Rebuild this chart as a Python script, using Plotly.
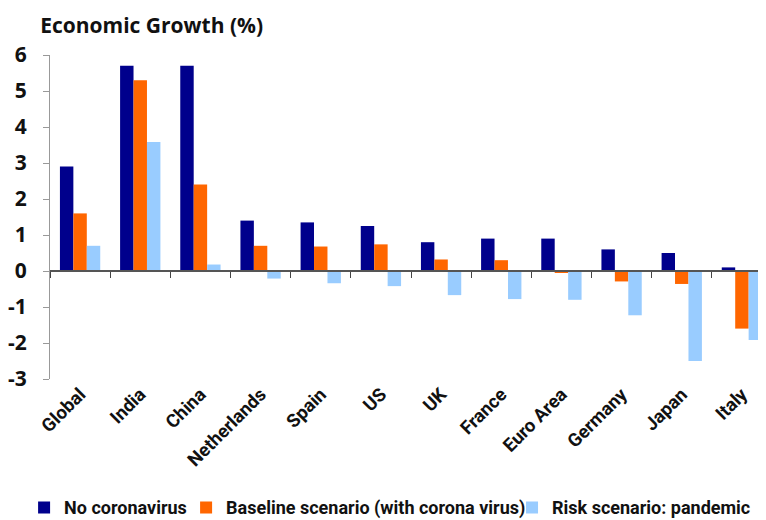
import plotly.graph_objects as go

categories = ["Global", "India", "China", "Netherlands", "Spain", "US", "UK",
              "France", "Euro Area", "Germany", "Japan", "Italy"]
no_corona = [2.9, 5.7, 5.7, 1.4, 1.35, 1.25, 0.8, 0.9, 0.9, 0.6, 0.5, 0.1]
baseline = [1.6, 5.3, 2.4, 0.7, 0.68, 0.74, 0.32, 0.3, -0.05, -0.29, -0.36, -1.6]
risk = [0.7, 3.58, 0.18, -0.21, -0.34, -0.42, -0.67, -0.78, -0.8, -1.23, -2.5, -1.92]
y_ticks = [6, 5, 4, 3, 2, 1, 0, -1, -2, -3]
y_tick_labels = ["6", "5", "4", "3", "2", "1", "0", "-1", "-2", "-3"]

series = [
    ("No coronavirus", no_corona, "#00008C", "legend", 0.021),
    ("Baseline scenario (with corona virus)", baseline, "#FF6600", "legend2", 0.2325),
    ("Risk scenario: pandemic", risk, "#99CCFF", "legend3", 0.658),
]

legend_font = dict(family="Roboto", size=18, color="#111", weight="bold")

fig = go.Figure()
legends = {}
for name, vals, col, lg, lx in series:
    fig.add_trace(go.Bar(x=categories, y=vals, name=name, marker_color=col,
                         marker_line_width=0, legend=lg))
    legends[lg] = dict(orientation="h", xref="container", yref="container",
                       x=lx, xanchor="left", y=0.039, yanchor="middle",
                       font=legend_font, itemwidth=30, bgcolor="rgba(0,0,0,0)")

fig.add_trace(go.Scatter(x=[None], y=[None], xaxis="x2", showlegend=False,
                         hoverinfo="skip"))

ymin, ymax = y_ticks[-1], y_ticks[0]
fig.update_layout(
    width=766, height=520,
    margin=dict(l=42, r=2, t=47, b=149, autoexpand=False),
    paper_bgcolor="white", plot_bgcolor="white",
    barmode="group", bargap=0.33, bargroupgap=0,
    title=dict(text="<b>Economic Growth (%)</b>", x=0.042, xanchor="left",
               y=0.967, yanchor="middle",
               font=dict(family="Open Sans", size=21, color="#111")),
    xaxis=dict(type="category", showline=False, ticks="", tickangle=-45,
               tickfont=dict(family="Roboto", size=18.5, color="#111", weight="bold"),
               showgrid=False, zeroline=False, automargin=False),
    xaxis2=dict(overlaying="x", anchor="free",
                position=(0 - ymin) / (ymax - ymin),
                range=[-0.5, len(categories) - 0.5],
                tickmode="array",
                tickvals=[i - 0.5 for i in range(len(categories) + 1)],
                showticklabels=False, ticks="outside", ticklen=6,
                tickcolor="#444", showline=True, linecolor="#555",
                linewidth=1.5, showgrid=False, zeroline=False),
    yaxis=dict(range=[ymin, ymax], tickmode="array", tickvals=y_ticks,
               ticktext=y_tick_labels, showgrid=False,
               zeroline=False, showline=True, linecolor="#999", linewidth=1,
               ticks="outside", ticklen=6, tickcolor="#999", ticklabelstandoff=12,
               automargin=False,
               tickfont=dict(family="Open Sans", size=21, color="#111", weight="bold")),
    showlegend=True,
    **legends,
)

fig.write_html("out.html")
